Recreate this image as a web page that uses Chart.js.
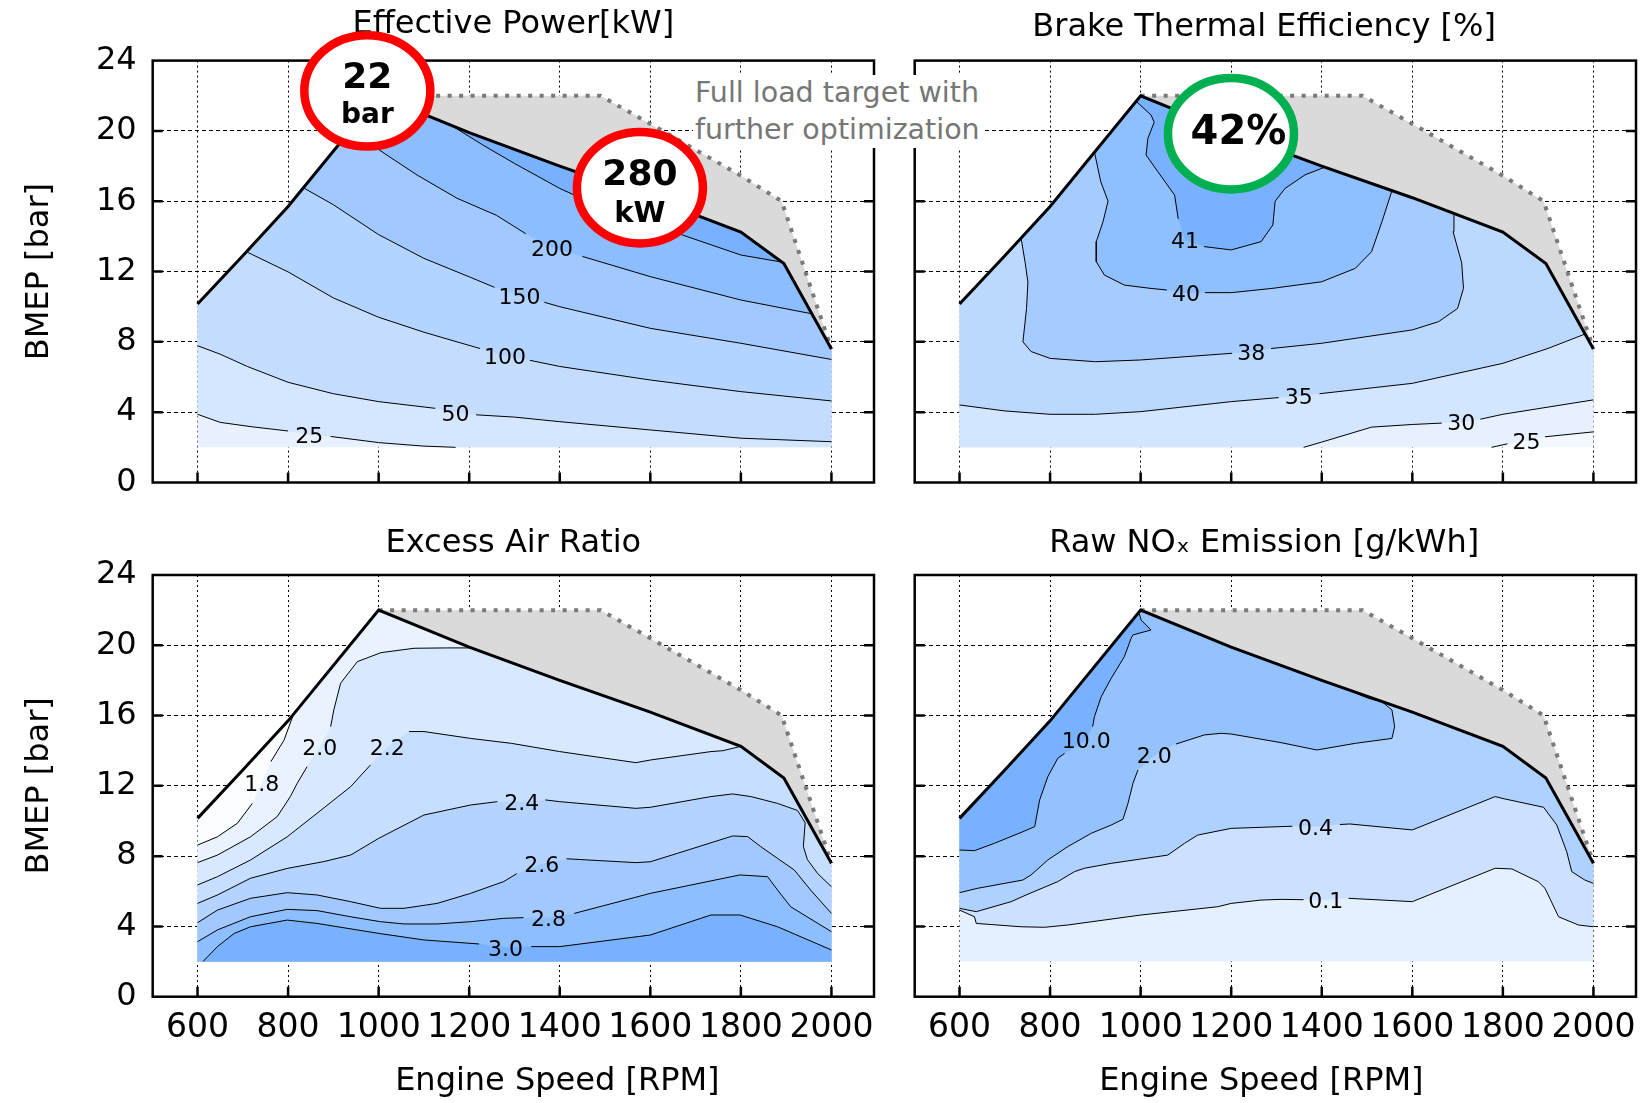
<!DOCTYPE html>
<html>
<head>
<meta charset="utf-8">
<title>Engine maps</title>
<script src="https://cdn.jsdelivr.net/npm/chart.js@4.4.1/dist/chart.umd.min.js"></script>
<style>
  html, body { margin: 0; padding: 0; background: #fff; }
  #wrap { position: relative; width: 1652px; height: 1103px; overflow: hidden; background: #fff; }
  #wrap canvas { position: absolute; }
  #note {
    position: absolute; left: 693px; top: 75px; z-index: 5;
    font: 28.5px 'DejaVu Sans', Verdana, sans-serif; line-height: 36.5px;
    color: #767676; background: #fff; white-space: nowrap; padding: 0 2px;
  }
</style>
</head>
<body>
<div id="wrap">
  <canvas id="power" width="900" height="500" style="left:0;top:0"></canvas>
  <canvas id="bte" width="752" height="500" style="left:900px;top:0"></canvas>
  <canvas id="lambda" width="900" height="603" style="left:0;top:500px"></canvas>
  <canvas id="nox" width="752" height="603" style="left:900px;top:500px"></canvas>
  <div id="note">Full load target with<br>further optimization</div>
</div>
<script>
// ---------- shared operating envelope ----------
const RPM_TICKS  = [600, 800, 1000, 1200, 1400, 1600, 1800, 2000];
const BMEP_TICKS = [0, 4, 8, 12, 16, 20, 24];
const MAP_FLOOR  = 2;                         // lowest measured BMEP [bar]

// full-load curve (black line)
const FL_RPM  = [600, 700, 800, 1000, 1200, 1400, 1600, 1800, 1895, 2000];
const FL_BMEP = [10.15, 12.9, 15.7, 22.0, 19.9, 18.0, 16.2, 14.25, 12.45, 7.6];

// full-load target with further optimization (dotted grey line)
const TARGET_RPM  = [1000, 1490, 1600, 1800, 1890, 2000];
const TARGET_BMEP = [22.0, 22.0, 20.4, 17.45, 16.0, 7.6];

// ---------- iso-lines: [rpm, bmep] ; a third entry is the inline label ----------
// Effective power [kW]
const POWER_25  = [[600,3.88],[650,3.42],[720,3.17],[800,2.93],[847,2.72,'25'],[894,2.62],[1000,2.27],[1100,2.07],[1170,2.0]];
const POWER_50  = [[600,7.78],[650,7.3],[710,6.6],[800,5.7],[900,5.05],[1000,4.6],[1125,4.22],[1170,3.97,'50'],[1215,3.85],[1300,3.72],[1400,3.46],[1600,2.99],[1800,2.52],[2000,2.32]];
const POWER_100 = [[710,13.1],[800,11.98],[900,10.5],[1000,9.4],[1100,8.55],[1173,8.0],[1224,7.62],[1279,7.2,'100'],[1334,6.95],[1400,6.6],[1600,5.83],[1800,5.17],[2000,4.64]];
const POWER_150 = [[835,16.75],[900,15.8],[1000,14.1],[1100,12.75],[1200,11.7],[1256,11.1],[1311,10.62,'150'],[1366,10.25],[1400,10.0],[1600,8.77],[1800,7.92],[2000,7.0]];
const POWER_200 = [[938,20.05],[1012,18.73],[1085,17.49],[1173,16.17],[1260,15.2],[1325,14.15],[1383,13.36,'200'],[1450,12.86],[1600,11.71],[1800,10.38],[1956,9.6]];
const POWER_250 = [[1160,20.32],[1230,19.2],[1300,18.15],[1400,16.73],[1500,15.55],[1600,14.6],[1671,14.08],[1800,12.94],[1890,12.54]];

// Brake thermal efficiency [%]
const BTE_25 = [[1775,2.0],[1810,2.2],[1852,2.38,'25'],[1893,2.6],[2000,2.88]];
const BTE_30 = [[1360,2.0],[1400,2.3],[1510,3.15],[1600,3.3],[1665,3.38],[1708,3.45,'30'],[1750,3.6],[1800,3.88],[2000,4.7]];
const BTE_35 = [[600,4.41],[700,4.07],[800,3.88],[900,3.88],[1000,4.03],[1200,4.6],[1305,4.83],[1349,4.9,'35'],[1395,5.05],[1600,5.64],[1800,6.78],[1900,7.63],[1982,8.45]];
const BTE_38 = [[736,13.9],[745,12.5],[751,11.4],[748,9.9],[740,8.0],[758,7.45],[800,7.06],[900,6.87],[1000,6.97],[1202,7.35],[1244,7.42,'38'],[1288,7.62],[1400,7.92],[1600,8.68],[1658,9.15],[1700,9.9],[1713,11.05],[1709,12.5],[1690,14.27],[1692,15.3]];
const BTE_40 = [[898,18.79],[912,17.1],[928,16.0],[917,14.84],[902,13.7],[902,12.56],[920,11.8],[964,11.23],[1023,11.04],[1058,10.95],[1100,10.78,'40'],[1142,10.8],[1200,10.8],[1290,11.04],[1400,11.42],[1474,12.18],[1510,13.13],[1533,14.84],[1555,16.6]];
const BTE_41 = [[990,21.69],[1023,20.9],[1030,20.5],[1016,19.58],[1012,18.63],[1038,17.68],[1075,16.35],[1083,15.0],[1098,13.8,'41'],[1140,13.42],[1200,13.23],[1266,13.7],[1292,14.65],[1297,16.0],[1319,16.73],[1363,17.5],[1407,17.94]];

// Excess air ratio [-]
const LAMBDA_18 = [[600,8.63],[644,9.1],[688,9.87],[721,11.0],[742,12.17,'1.8'],[762,13.38],[791,14.6],[812,16.08]];
const LAMBDA_20 = [[600,7.63],[644,8.06],[717,9.1],[776,10.25],[805,11.39],[820,12.14],[842,13.09],[870,14.23,'2.0'],[894,15.37],[901,16.32],[916,17.84],[953,19.07],[1005,19.58],[1078,19.83],[1150,19.85],[1205,19.85]];
const LAMBDA_22 = [[600,6.36],[644,6.83],[717,7.78],[798,9.1],[864,10.44],[938,11.95],[982,13.19],[1019,14.2,'2.2'],[1067,15.09],[1100,15.09],[1203,14.7],[1293,14.42],[1400,13.95],[1568,13.32],[1600,13.47],[1734,13.95],[1760,14.0],[1800,14.25]];
const LAMBDA_24 = [[600,5.31],[644,5.79],[717,6.74],[798,7.3],[879,7.69],[938,8.06],[1000,9.01],[1100,10.34],[1203,10.91],[1262,11.1],[1316,11.1,'2.4'],[1368,11.2],[1400,11.1],[1568,10.72],[1600,10.78],[1734,11.39],[1782,11.54],[1822,11.39],[1881,11.0],[1925,10.6],[1942,9.9],[1938,8.55],[1947,7.8],[1970,7.0],[2000,6.26]];
const LAMBDA_26 = [[600,4.21],[644,4.93],[717,5.6],[798,5.92],[864,5.79],[938,5.41],[1004,5.03],[1056,5.03],[1129,5.31],[1203,5.88],[1276,6.55],[1305,7.0],[1360,7.55,'2.6'],[1415,7.85],[1568,7.63],[1600,7.68],[1660,8.16],[1782,9.15],[1815,9.11],[1844,8.54],[1881,7.87],[1918,7.21],[1954,6.07],[2000,4.74]];
const LAMBDA_28 = [[600,3.13],[644,3.8],[717,4.55],[798,4.97],[864,4.9],[938,4.55],[1004,4.27],[1056,4.14],[1129,4.14],[1203,4.27],[1276,4.46],[1320,4.5],[1375,4.5,'2.8'],[1432,4.74],[1500,5.2],[1600,5.88],[1798,6.93],[1859,6.83],[1881,6.07],[1910,5.12],[2000,3.7]];
const LAMBDA_30 = [[612,2.0],[644,2.85],[681,3.6],[717,3.98],[798,4.36],[864,4.17],[1001,3.6],[1100,3.23],[1222,3.0],[1280,2.8,'3.0'],[1337,2.85],[1400,2.85],[1600,3.51],[1734,4.65],[1798,4.65],[1881,3.98],[2000,2.66]];

// Raw NOx emission [g/kWh]
const NOX_10 = [[600,8.35],[633,8.31],[677,8.73],[740,9.39],[766,9.68],[777,11.2],[795,12.52],[817,13.57],[832,13.85],[880,14.6,'10.0'],[894,15.37],[898,15.94],[913,17.08],[935,18.12],[964,19.35],[979,20.4],[983,20.59],[1023,20.87],[1001,21.44],[997,21.8]];
const NOX_2  = [[600,5.92],[640,6.17],[740,6.64],[758,6.93],[795,7.78],[839,8.54],[891,9.3],[935,9.77],[961,10.1],[972,11.0],[983,12.14],[994,12.9],[1030,13.73,'2.0'],[1078,14.38],[1141,14.9],[1178,14.99],[1200,14.95],[1310,14.46],[1389,14.04],[1474,14.42],[1555,14.7],[1561,15.37],[1555,16.32],[1533,16.79],[1503,16.98],[1455,17.5]];
const NOX_04 = [[600,5.03],[637,4.84],[714,5.41],[747,5.79],[817,6.55],[854,7.12],[876,7.31],[935,7.59],[1060,8.06],[1097,8.73],[1126,9.2],[1200,9.58],[1310,9.68],[1335,9.7],[1386,9.68,'0.4'],[1440,9.8],[1462,9.83],[1600,9.49],[1783,11.39],[1798,11.29],[1890,10.78],[1919,9.77],[1941,8.25],[1952,7.12],[1981,6.64],[2000,6.45]];
const NOX_01 = [[600,4.93],[633,4.55],[637,4.17],[736,3.98],[788,3.95],[839,4.08],[1001,4.65],[1170,5.12],[1200,5.31],[1266,5.5],[1310,5.54],[1360,5.52],[1409,5.52,'0.1'],[1459,5.6],[1600,5.41],[1783,7.31],[1820,7.27],[1878,6.55],[1893,6.17],[1923,4.55],[1967,4.08],[2000,3.98]];

// ---------- region builders ----------
const FL = FL_RPM.map((r, i) => [r, FL_BMEP[i]]);
const TARGET = TARGET_RPM.map((r, i) => [r, TARGET_BMEP[i]]);
const RPM_LO = FL_RPM[0], RPM_HI = FL_RPM[FL_RPM.length - 1];
// full-load vertices walked right-to-left / left-to-right
const flDown = (hi, lo) => FL.filter(([r]) => r <= hi && r > lo).reverse();
const flUp = lo => FL.filter(([r]) => r > lo);
const ENVELOPE = [[RPM_LO, MAP_FLOOR], ...FL, [RPM_HI, MAP_FLOOR]];
const TARGET_AREA = [...TARGET, ...flDown(RPM_HI - 1, TARGET_RPM[0])];
const BELOW = [[RPM_HI, MAP_FLOOR], [RPM_LO, MAP_FLOOR]];

// trailing spaces nudge the right-hand titles a little to the left
const NUDGE = '\u2002\u2009';

const PANELS = [
  {
    canvas: 'power', title: 'Effective Power[kW]', titlePad: {top: 5.3, bottom: 16.9},
    yAxisW: 152.7, rightPad: 26, xAxisH: 0, bottomPad: 17.5, yLabels: true, xLabels: false,
    bands: [
      [ENVELOPE, '#e7f1ff'],
      [[...POWER_25, [RPM_HI, MAP_FLOOR], ...flDown(RPM_HI, 0)], '#d5e7ff'],
      [[...POWER_50, ...flDown(RPM_HI, 0)], '#c4ddff'],
      [[...POWER_100, ...flDown(RPM_HI, 710)], '#b3d4ff'],
      [[...POWER_150, ...flDown(RPM_HI, 835)], '#a1c9ff'],
      [[...POWER_200, ...flDown(1956, 938)], '#8cbdff'],
      [[...POWER_250, ...flDown(1890, 1160)], '#78b1ff']
    ],
    lines: [POWER_25, POWER_50, POWER_100, POWER_150, POWER_200, POWER_250],
    callouts: [
      {rpm: 975, bmep: 22.28, ring: '#ff0000', rows: [['22', 36, 0, -2.5], ['bar', 28, 0, 32.5]]},
      {rpm: 1577, bmep: 16.77, ring: '#ff0000', rows: [['280', 36, 0, -2.7], ['kW', 29, 0, 34]]}
    ]
  },
  {
    canvas: 'bte', title: 'Brake Thermal Efficiency [%]' + NUDGE, titlePad: {top: 8.8, bottom: 13.4},
    yAxisW: 14.7, rightPad: 16, xAxisH: 0, bottomPad: 17.5, yLabels: false, xLabels: false,
    bands: [
      [ENVELOPE, '#f3f8ff'],
      [[...BTE_25, ...flDown(RPM_HI, 0), [RPM_LO, MAP_FLOOR]], '#e6f0ff'],
      [[...BTE_30, ...flDown(RPM_HI, 0), [RPM_LO, MAP_FLOOR]], '#d3e6ff'],
      [[...BTE_35, ...flDown(1982, 0)], '#bbd8ff'],
      [[...BTE_38, ...flDown(1692, 736)], '#a5cbff'],
      [[...BTE_40, ...flDown(1555, 898)], '#8ebfff'],
      [[...BTE_41, ...flDown(1407, 990)], '#78b1ff']
    ],
    lines: [BTE_25, BTE_30, BTE_35, BTE_38, BTE_40, BTE_41],
    callouts: [
      {rpm: 1199.5, bmep: 19.84, ring: '#00b050', rows: [['42%', 40, 7.5, 10.2]]}
    ]
  },
  {
    canvas: 'lambda', title: 'Excess Air Ratio', titlePad: {top: 24.8, bottom: 11.8},
    yAxisW: 152.7, rightPad: 26, xAxisH: 106.3, bottomPad: 0, yLabels: true, xLabels: true, xTitleShift: 44,
    bands: [
      [ENVELOPE, '#fbfdff'],
      [[...LAMBDA_18, ...flUp(812), ...BELOW], '#e9f2ff'],
      [[...LAMBDA_20, ...flUp(1205), ...BELOW], '#d8e8ff'],
      [[...LAMBDA_22, ...flUp(1800), ...BELOW], '#c6deff'],
      [[...LAMBDA_24, ...BELOW], '#b4d4ff'],
      [[...LAMBDA_26, ...BELOW], '#a1c9ff'],
      [[...LAMBDA_28, ...BELOW], '#8dbeff'],
      [[...LAMBDA_30, [RPM_HI, MAP_FLOOR]], '#78b1ff']
    ],
    lines: [LAMBDA_18, LAMBDA_20, LAMBDA_22, LAMBDA_24, LAMBDA_26, LAMBDA_28, LAMBDA_30],
    callouts: []
  },
  {
    canvas: 'nox', title: 'Raw NO\u2093 Emission [g/kWh]' + NUDGE, titlePad: {top: 24.8, bottom: 11.8},
    yAxisW: 14.7, rightPad: 16, xAxisH: 106.3, bottomPad: 0, yLabels: false, xLabels: true, xTitleShift: -14,
    bands: [
      [ENVELOPE, '#e5f0ff'],
      [[...NOX_01, ...flDown(RPM_HI, 0)], '#cce0ff'],
      [[...NOX_04, ...flDown(RPM_HI, 0)], '#aed1ff'],
      [[...NOX_2, ...flDown(1455, 0)], '#93c2ff'],
      [[...NOX_10, ...flDown(997, 0)], '#78b1ff']
    ],
    lines: [NOX_01, NOX_04, NOX_2, NOX_10],
    callouts: []
  }
];

// ---------- drawing ----------
const FONT = "'DejaVu Sans', Verdana, sans-serif";
Chart.defaults.font.family = FONT;
Chart.defaults.color = '#000';

const xy = pts => pts.map(([x, y]) => ({x, y}));

function areaSet(poly, color) {
  return {data: xy(poly), fill: 'shape', backgroundColor: color, borderColor: 'rgba(0,0,0,0)',
          borderWidth: 0, pointRadius: 0, tension: 0};
}
function isoSet(line) {
  return {data: line.map(([x, y, label]) => ({x, y: label ? null : y})), fill: false,
          borderColor: '#000', borderWidth: 1, borderJoinStyle: 'round', pointRadius: 0, tension: 0, spanGaps: false};
}

function decoPlugin(p) {
  return {
    id: 'deco',
    afterDraw(chart) {
      const {ctx, chartArea: a, scales: {x, y}} = chart;
      ctx.save();
      // frame with inward tick marks
      ctx.strokeStyle = '#000';
      ctx.lineWidth = 2.5;
      ctx.strokeRect(a.left, a.top, a.right - a.left, a.bottom - a.top);
      ctx.beginPath();
      x.ticks.forEach(t => {
        const px = x.getPixelForValue(t.value);
        ctx.moveTo(px, a.bottom); ctx.lineTo(px, a.bottom - 10);
      });
      y.ticks.forEach(t => {
        if (t.value <= 0 || t.value >= 24) return;
        const py = y.getPixelForValue(t.value);
        ctx.moveTo(a.left, py); ctx.lineTo(a.left + 10, py);
        ctx.moveTo(a.right, py); ctx.lineTo(a.right - 10, py);
      });
      ctx.stroke();

      // inline iso-line labels
      ctx.fillStyle = '#000';
      ctx.textAlign = 'center';
      ctx.textBaseline = 'alphabetic';
      ctx.font = '22px ' + FONT;
      p.lines.forEach(line => line.forEach(([r, b, label]) => {
        if (label) ctx.fillText(label, x.getPixelForValue(r), y.getPixelForValue(b) + 8);
      }));

      // x axis title
      if (p.xLabels) {
        ctx.font = '32px ' + FONT;
        ctx.textBaseline = 'middle';
        ctx.fillText('Engine Speed [RPM]', (a.left + a.right) / 2 + p.xTitleShift, a.bottom + 85.3);
      }

      // call-out rings
      p.callouts.forEach(c => {
        const cx = x.getPixelForValue(c.rpm), cy = y.getPixelForValue(c.bmep);
        ctx.beginPath();
        ctx.ellipse(cx, cy, 63, 55.7, 0, 0, Math.PI * 2);
        ctx.fillStyle = '#fff';
        ctx.fill();
        ctx.lineWidth = 8.5;
        ctx.strokeStyle = c.ring;
        ctx.stroke();
        ctx.fillStyle = '#000';
        ctx.textAlign = 'center';
        ctx.textBaseline = 'alphabetic';
        c.rows.forEach(([s, size, dx, dy]) => {
          ctx.font = 'bold ' + size + 'px ' + FONT;
          ctx.fillText(s, cx + dx, cy + dy);
        });
      });
      ctx.restore();
    }
  };
}

PANELS.forEach(p => {
  const datasets = [
    ...p.bands.map(([poly, color]) => areaSet(poly, color)),
    areaSet(TARGET_AREA, '#dadada'),
    ...p.lines.map(isoSet),
    {data: xy(TARGET), fill: false, borderColor: '#7a7a7a', borderWidth: 4, borderDash: [4, 7.5],
     borderCapStyle: 'butt', pointRadius: 0, tension: 0},
    {data: xy(FL), fill: false, borderColor: '#000', borderWidth: 3, pointRadius: 0, tension: 0}
  ];
  // first entry is painted first (bottom layer)
  datasets.forEach((d, i) => { d.order = datasets.length - i; });

  new Chart(document.getElementById(p.canvas), {
    type: 'line',
    data: {datasets},
    options: {
      responsive: false,
      animation: false,
      devicePixelRatio: 1,
      events: [],
      layout: {padding: {left: 0, right: p.rightPad, top: 0, bottom: p.bottomPad}},
      plugins: {
        legend: {display: false},
        tooltip: {enabled: false},
        title: {display: true, text: p.title, fullSize: false, color: '#000',
                font: {size: 32, weight: 'normal'}, padding: p.titlePad}
      },
      scales: {
        x: {
          type: 'linear', min: 501, max: 2094, z: 1,
          afterBuildTicks: s => { s.ticks = RPM_TICKS.map(v => ({value: v})); },
          afterFit: s => { s.height = p.xAxisH; s.paddingLeft = 0; s.paddingRight = 0; },
          grid: {color: '#000', lineWidth: 1, drawTicks: false},
          border: {display: false, dash: [2, 3]},
          ticks: {display: p.xLabels, padding: 15.3, autoSkip: false, maxRotation: 0, color: '#000',
                  font: {size: 33, lineHeight: 1}, callback: v => String(v)}
        },
        y: {
          type: 'linear', min: 0, max: 24, z: 1,
          afterBuildTicks: s => { s.ticks = BMEP_TICKS.map(v => ({value: v})); },
          afterFit: s => { s.width = p.yAxisW; s.paddingTop = 0; s.paddingBottom = 0; },
          grid: {color: '#000', lineWidth: 1, drawTicks: false},
          border: {display: false, dash: [4, 3]},
          ticks: {display: p.yLabels, padding: 16, color: '#000', font: {size: 32, lineHeight: 1},
                  callback: v => String(v)},
          title: {display: p.yLabels, text: 'BMEP [bar]', color: '#000', font: {size: 32},
                  padding: {top: 20.3, bottom: 0}}
        }
      }
    },
    plugins: [decoPlugin(p)]
  });
});
</script>
</body>
</html>
